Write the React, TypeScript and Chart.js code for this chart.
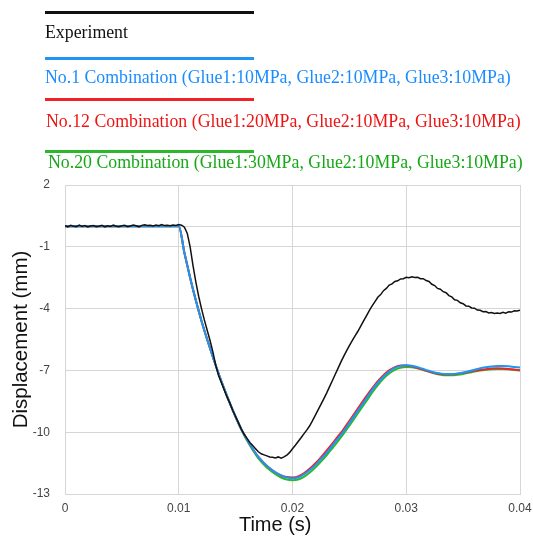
import React, { useEffect, useRef } from "react";
import { Chart, registerables } from "chart.js";

Chart.register(...registerables);

// ---------- data ----------
const expStep = 0.00025; // s, sampling of the experiment trace
const simStep = 0.0005; // s, sampling of the simulated traces

const experiment = [
  0.02, -0.03, 0.04, 0.0, -0.02, 0.05, -0.01, 0.03, -0.04, 0.01,
  0.03, -0.02, 0.0, 0.04, -0.03, 0.02, -0.01, 0.05, 0.0, -0.03,
  0.02, 0.04, -0.02, 0.01, 0.06, 0.02, -0.03, 0.04, 0.07, 0.03,
  0.05, 0.01, 0.06, 0.02, 0.08, 0.03, 0.05, 0.02, 0.06, 0.04,
  0.08, 0.05, -0.05, -0.35, -1.0, -1.9, -2.7, -3.4, -4.0, -4.55,
  -5.05, -5.55, -6.1, -6.75, -7.25, -7.6, -7.95, -8.3, -8.6, -8.95,
  -9.25, -9.55, -9.85, -10.1, -10.3, -10.5, -10.65, -10.8, -10.95, -11.05,
  -11.1, -11.15, -11.2, -11.22, -11.25, -11.2, -11.26, -11.2, -11.12, -10.98,
  -10.8, -10.63, -10.45, -10.27, -10.08, -9.9, -9.7, -9.45, -9.18, -8.92,
  -8.65, -8.38, -8.1, -7.8, -7.5, -7.2, -6.9, -6.6, -6.32, -6.05,
  -5.8, -5.55, -5.32, -5.1, -4.85, -4.6, -4.35, -4.1, -3.87, -3.66,
  -3.45, -3.32, -3.13, -3.02, -2.86, -2.8, -2.68, -2.65, -2.56, -2.55,
  -2.48, -2.5, -2.45, -2.49, -2.48, -2.55, -2.55, -2.64, -2.68, -2.82,
  -2.88, -3.02, -3.06, -3.18, -3.23, -3.37, -3.43, -3.57, -3.6, -3.72,
  -3.76, -3.87, -3.88, -3.97, -3.98, -4.07, -4.08, -4.15, -4.14, -4.21,
  -4.19, -4.24, -4.21, -4.24, -4.18, -4.22, -4.15, -4.17, -4.11, -4.12,
  -4.08,
];

const combo1 = [
  0, 0, 0, 0, 0, 0, 0, 0, 0, 0,
  0, 0, 0, 0, 0, 0, 0, 0, 0, 0,
  0, -1.3, -2.5, -3.6, -4.6, -5.5, -6.35, -7.15, -7.9, -8.6,
  -9.25, -9.85, -10.35, -10.8, -11.2, -11.5, -11.75, -11.95, -12.1, -12.2,
  -12.23, -12.2, -12.05, -11.85, -11.6, -11.3, -11.0, -10.65, -10.3, -9.95,
  -9.55, -9.15, -8.75, -8.35, -7.95, -7.6, -7.3, -7.05, -6.88, -6.78,
  -6.75, -6.77, -6.84, -6.93, -7.02, -7.1, -7.15, -7.18, -7.18, -7.15,
  -7.1, -7.04, -6.97, -6.9, -6.85, -6.81, -6.79, -6.79, -6.8, -6.83,
  -6.86,
];

const combo12 = [
  0, 0, 0, 0, 0, 0, 0, 0, 0, 0,
  0, 0, 0, 0, 0, 0, 0, 0, 0, 0,
  0, -1.3, -2.5, -3.6, -4.6, -5.5, -6.35, -7.15, -7.9, -8.6,
  -9.25, -9.85, -10.35, -10.8, -11.2, -11.5, -11.75, -11.95, -12.1, -12.18,
  -12.2, -12.15, -12.0, -11.78, -11.52, -11.22, -10.9, -10.56, -10.2, -9.85,
  -9.45, -9.05, -8.65, -8.25, -7.87, -7.52, -7.23, -7.0, -6.84, -6.76,
  -6.76, -6.8, -6.88, -6.97, -7.06, -7.13, -7.18, -7.2, -7.19, -7.16,
  -7.12, -7.07, -7.02, -6.98, -6.94, -6.91, -6.9, -6.91, -6.93, -6.96,
  -6.99,
];

const combo20 = [
  0, 0, 0, 0, 0, 0, 0, 0, 0, 0,
  0, 0, 0, 0, 0, 0, 0, 0, 0, 0,
  0, -1.3, -2.5, -3.6, -4.6, -5.5, -6.35, -7.15, -7.9, -8.6,
  -9.27, -9.88, -10.4, -10.86, -11.27, -11.58, -11.84, -12.04, -12.2, -12.3,
  -12.33, -12.3, -12.17, -11.97, -11.72, -11.43, -11.12, -10.78, -10.43, -10.07,
  -9.68, -9.28, -8.88, -8.48, -8.08, -7.72, -7.4, -7.15, -6.97, -6.87,
  -6.84, -6.85, -6.9, -6.98, -7.07, -7.15, -7.21, -7.24, -7.24, -7.21,
  -7.17, -7.12, -7.06, -7.01, -6.97, -6.94, -6.93, -6.93, -6.95, -6.98,
  -7.01,
];

const xTicks = [0, 0.01, 0.02, 0.03, 0.04];
const xTickLabels = ["0", "0.01", "0.02", "0.03", "0.04"];
const yTicks = [2, 0, -1, -4, -7, -10, -13];
const yTickLabels = ["2", "", "-1", "-4", "-7", "-10", "-13"];
const xTitle = "Time (s)";
const yTitle = "Displacement (mm)";

const seriesNames = [
  "Experiment",
  "No.1 Combination (Glue1:10MPa, Glue2:10MPa, Glue3:10MPa)",
  "No.12 Combination (Glue1:20MPa, Glue2:10MPa, Glue3:10MPa)",
  "No.20 Combination (Glue1:30MPa, Glue2:10MPa, Glue3:10MPa)",
];
const lineColors = ["#111111", "#1e96f5", "#f02226", "#2cb82c"];
const textColors = ["#111111", "#1a8cff", "#ee1414", "#16a816"];

// ---------- helpers ----------
const toPoints = (vals: number[], step: number) =>
  vals.map((v, i) => ({ x: +(i * step).toFixed(5), y: v }));

const legendLineTops = [11, 57, 98, 150];
const legendTextTops = [23.7, 69.2, 112.5, 153.7];
const legendTextLefts = [45, 45, 46, 48];

// x-axis title sits a little left of the plot centre in the original
const xTitlePlugin = {
  id: "xTitleOffset",
  afterDraw(chart: any) {
    const { ctx, chartArea } = chart;
    ctx.save();
    ctx.font = "20px 'Liberation Sans', Arial, sans-serif";
    ctx.fillStyle = "#111";
    ctx.textAlign = "center";
    ctx.textBaseline = "middle";
    ctx.fillText(xTitle, chartArea.left + chartArea.width * 0.462, chartArea.bottom + 31);
    ctx.restore();
  },
};

export default function App() {
  const ref = useRef<HTMLCanvasElement | null>(null);

  useEffect(() => {
    if (!ref.current) return;
    const chart = new Chart(ref.current, {
      type: "line",
      data: {
        datasets: [
          {
            label: seriesNames[0],
            data: toPoints(experiment, expStep),
            borderColor: lineColors[0],
            borderWidth: 1.5,
            pointRadius: 0,
            tension: 0,
          },
          {
            label: seriesNames[1],
            data: toPoints(combo1, simStep),
            borderColor: lineColors[1],
            borderWidth: 2,
            pointRadius: 0,
            cubicInterpolationMode: "monotone",
          },
          {
            label: seriesNames[2],
            data: toPoints(combo12, simStep),
            borderColor: lineColors[2],
            borderWidth: 2,
            pointRadius: 0,
            cubicInterpolationMode: "monotone",
          },
          {
            label: seriesNames[3],
            data: toPoints(combo20, simStep),
            borderColor: lineColors[3],
            borderWidth: 2,
            pointRadius: 0,
            cubicInterpolationMode: "monotone",
          },
        ],
      },
      options: {
        responsive: false,
        animation: false,
        layout: { autoPadding: false, padding: { top: 185, left: 9, right: 13, bottom: 2 } },
        plugins: { legend: { display: false }, tooltip: { enabled: false } },
        scales: {
          x: {
            type: "linear",
            min: 0,
            max: 0.04,
            afterBuildTicks: (s: any) => {
              s.ticks = xTicks.map((v) => ({ value: v }));
            },
            afterFit: (s: any) => {
              s.height = 43;
              s.paddingLeft = 0;
              s.paddingRight = 0;
            },
            ticks: {
              padding: 7,
              maxRotation: 0,
              color: "#444",
              font: { family: "Liberation Sans, Arial, sans-serif", size: 12 },
              callback: (v: any) => xTickLabels[xTicks.indexOf(+v)] ?? "",
            },
            grid: { color: "#d6d6d6", lineWidth: 1, drawTicks: false },
            border: { color: "#d6d6d6" },
            title: { display: false, text: xTitle },
          },
          y: {
            type: "linear",
            min: -13,
            max: 2,
            afterBuildTicks: (s: any) => {
              s.ticks = yTicks.map((v) => ({ value: v }));
            },
            afterFit: (s: any) => {
              s.width = 56;
            },
            ticks: {
              padding: 15,
              color: "#444",
              font: { family: "Liberation Sans, Arial, sans-serif", size: 12 },
              callback: (v: any) => yTickLabels[yTicks.indexOf(+v)] ?? "",
            },
            grid: { color: "#d6d6d6", lineWidth: 1, drawTicks: false },
            border: { color: "#d6d6d6" },
            title: {
              display: true,
              text: yTitle,
              color: "#111",
              padding: { top: 0, bottom: 0 },
              font: { family: "Liberation Sans, Arial, sans-serif", size: 20.5 },
            },
          },
        },
      },
      plugins: [xTitlePlugin],
    } as any);
    return () => chart.destroy();
  }, []);

  return (
    <div
      style={{
        position: "absolute",
        left: 0,
        top: 0,
        width: 533,
        height: 539,
        overflow: "hidden",
        background: "#fff",
      }}
    >
      <canvas
        ref={ref}
        width={533}
        height={539}
        style={{ position: "absolute", left: 0, top: 0, width: 533, height: 539 }}
      />
      {seriesNames.map((name, i) => (
        <React.Fragment key={name}>
          <div
            style={{
              position: "absolute",
              left: 45,
              top: legendLineTops[i],
              width: 209,
              height: 2.5,
              background: lineColors[i],
            }}
          />
          <div
            style={{
              position: "absolute",
              left: legendTextLefts[i],
              top: legendTextTops[i],
              fontFamily: "'Liberation Serif', 'Times New Roman', serif",
              fontSize: 17.8,
              lineHeight: "17.8px",
              whiteSpace: "nowrap",
              color: textColors[i],
            }}
          >
            {name}
          </div>
        </React.Fragment>
      ))}
    </div>
  );
}
